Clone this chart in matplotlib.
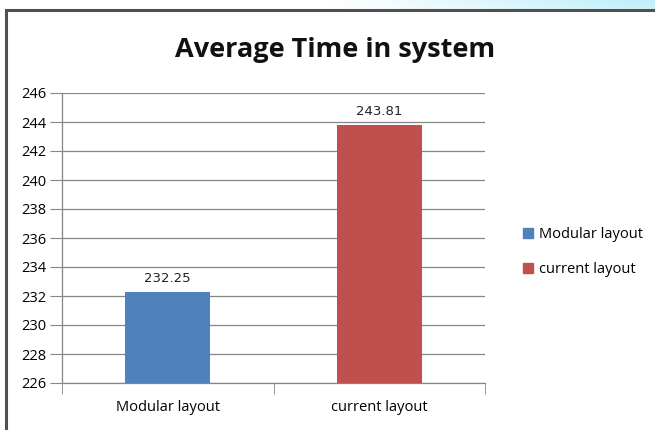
import matplotlib.pyplot as plt
from matplotlib.patches import Rectangle
from matplotlib.lines import Line2D
import matplotlib.colors as mcolors
import numpy as np

categories = ["Modular layout", "current layout"]
values = [232.25, 243.81]
value_labels = ["232.25", "243.81"]
colors = ["#4F81BD", "#C0504D"]
yticks = [226, 228, 230, 232, 234, 236, 238, 240, 242, 244, 246]

fig = plt.figure(figsize=(6.55, 4.30), dpi=100)
fig.patch.set_facecolor("white")

# light slide gradient in the top-right corner behind the chart frame
bg = fig.add_axes([0, 0, 1, 1], zorder=-2)
bg.set_axis_off()
h, w = 430, 655
yy, xx = np.mgrid[0:h, 0:w]
alpha = np.clip((xx - 330) / 300.0, 0, 1) * np.clip((40 - yy) / 40.0, 0, 1)
img = np.ones((h, w, 3))
cyan = np.array(mcolors.to_rgb("#BFEFFA"))
img = img * (1 - alpha[..., None]) + cyan * alpha[..., None]
bg.imshow(img, extent=[0, 1, 0, 1], aspect="auto", origin="upper")
bg.set_xlim(0, 1)
bg.set_ylim(0, 1)

# chart frame: white box with a dark left/top edge
frame = Rectangle((6 / w, 0), 1, 1 - 10 / h, transform=fig.transFigure,
                  facecolor="white", edgecolor="none", zorder=-1)
fig.patches.append(frame)
fig.lines.append(Line2D([6 / w, 6 / w, 1], [0, 1 - 10 / h, 1 - 10 / h],
                        transform=fig.transFigure, color="#505050",
                        linewidth=2.2, solid_joinstyle="miter"))

ax = fig.add_axes([62 / w, 1 - 383 / h, (485 - 62) / w, (383 - 93) / h])
x = np.arange(len(categories))
bars = ax.bar(x, [v - 226 for v in values], bottom=226, width=0.4,
              color=colors, zorder=3)
for b, lab in zip(bars, value_labels):
    ax.text(b.get_x() + b.get_width() / 2, b.get_y() + b.get_height() + 0.5,
            lab, ha="center", va="bottom", fontsize=9.5,
            family="DejaVu Sans", color="#222222")

ax.set_xlim(-0.5, 1.5)
ax.set_ylim(226, 246)
ax.set_yticks(yticks)
ax.set_yticklabels([str(t) for t in yticks], fontsize=10.5, family="Open Sans")
ax.tick_params(axis="y", length=9, color="#868686", pad=2)
ax.set_xticks(x)
ax.set_xticklabels(categories, fontsize=10.5, family="Open Sans")
ax.tick_params(axis="x", which="major", length=0, pad=12)
ax.set_xticks([-0.5, 0.5, 1.5], minor=True)
ax.tick_params(axis="x", which="minor", length=8, color="#868686")
ax.yaxis.grid(True, color="#868686", linewidth=0.9, zorder=0)
for s in ["top", "right"]:
    ax.spines[s].set_visible(False)
for s in ["left", "bottom"]:
    ax.spines[s].set_color("#868686")
    ax.spines[s].set_linewidth(0.9)

fig.text(335 / w, 1 - 50 / h, "Average Time in system", ha="center",
         va="center", fontsize=19.5, fontweight="bold", family="Open Sans",
         color="#111111")

handles = [Rectangle((0, 0), 1, 1, color=c) for c in colors]
fig.legend(handles, categories, loc="center left",
           bbox_to_anchor=(510 / w, 1 - 252 / h), frameon=False,
           handlelength=0.7, handleheight=0.7,
           handletextpad=0.4, labelspacing=1.4,
           prop={"family": "Open Sans", "size": 10.5})

fig.savefig("out.png", dpi=100)
